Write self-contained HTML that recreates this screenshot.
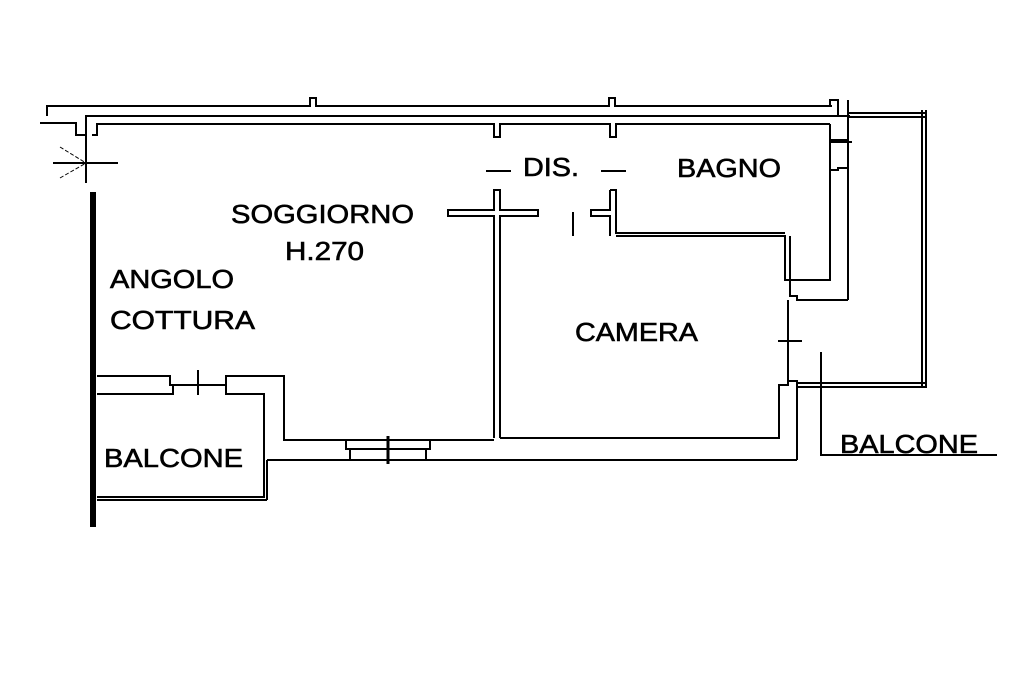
<!DOCTYPE html>
<html><head><style>body{margin:0;background:#fff}svg{display:block}text{font-family:"Liberation Sans",Arial,sans-serif;font-size:26px;fill:#000;stroke:#000;stroke-width:0.6}</style></head><body>
<svg width="1024" height="683" viewBox="0 0 1024 683" xmlns="http://www.w3.org/2000/svg">
<g fill="none" stroke="#000" stroke-width="2">
<polyline points="47,116 47,106 310,106 310,98 316,98 316,106 609,106 609,98 615,98 615,106 832,106"/>
<polyline points="86,183 86,116 850,116"/>
<polyline points="40,123 76,123 76,135 86,135"/>
<polyline points="92,135 97,135 97,124 494,124 494,137 500,137 500,124 610,124 610,137 616,137 616,124 830,124"/>
<polyline points="830,106 830,100 838,100 838,106"/>
<polyline points="848,100 848,300"/>
<polyline points="838,116 838,100"/>
<line x1="848" y1="113" x2="925" y2="113"/><line x1="848" y1="117" x2="925" y2="117"/>
<line x1="922" y1="110" x2="922" y2="388"/><line x1="926" y1="110" x2="926" y2="388"/>
<polyline points="830,124 830,280 785,280 785,236 616,236"/>
<polyline points="830,140 848,140"/><polyline points="830,170 838,170 838,168 848,168"/><polyline points="830,142 838,142"/><line x1="838" y1="142" x2="852" y2="142"/>
<polyline points="848,300 797,300 797,296 790,296 790,236"/>
<line x1="486" y1="171" x2="511" y2="171"/><line x1="601" y1="171" x2="626" y2="171"/>
<polyline points="494,438 494,216 448,216 448,210 494,210 494,190 500,190 500,210 538,210 538,216 500,216 500,438"/>
<line x1="573" y1="212" x2="573" y2="236"/>
<polyline points="610,190 610,210 591,210 591,216 610,216 610,236"/>
<polyline points="610,190 616,190 616,233 785,233"/>
<polyline points="500,438 779,438 779,385 788,385 788,300"/>
<line x1="778" y1="341" x2="802" y2="341"/>
<polyline points="797,460 797,381 788,381"/>
<line x1="797" y1="383" x2="925" y2="383"/><line x1="797" y1="387" x2="925" y2="387"/>
<polyline points="821,352 821,455 997,455"/>
<polyline points="267,460 797,460"/>
<polyline points="97,376 170,376 170,385 226,385 226,376 284,376 284,440 494,440"/>
<polyline points="97,394 173,394 173,386"/><polyline points="226,386 226,394 264,394 264,498"/>
<line x1="267" y1="460" x2="267" y2="500"/>
<line x1="97" y1="497" x2="264" y2="497"/><line x1="97" y1="500" x2="267" y2="500"/>
<line x1="198" y1="370" x2="198" y2="395"/>
<polyline points="346,440 346,449 350,449 350,460"/><polyline points="430,440 430,449 426,449 426,460"/>
<line x1="346" y1="449" x2="430" y2="449"/>
<line x1="388" y1="436" x2="388" y2="464" stroke-width="3"/>
<line x1="53" y1="163" x2="118" y2="163"/>
<line x1="60" y1="147" x2="86" y2="163" stroke-dasharray="4,2" stroke-width="1"/>
<line x1="60" y1="178" x2="86" y2="163" stroke-dasharray="4,2" stroke-width="1"/>
</g>
<line x1="93" y1="192" x2="93" y2="527" stroke="#000" stroke-width="6"/>
<text x="231" y="223" textLength="183" lengthAdjust="spacingAndGlyphs">SOGGIORNO</text>
<text x="285" y="260" textLength="79" lengthAdjust="spacingAndGlyphs">H.270</text>
<text x="110" y="288" textLength="124" lengthAdjust="spacingAndGlyphs">ANGOLO</text>
<text x="110" y="329" textLength="145" lengthAdjust="spacingAndGlyphs">COTTURA</text>
<text x="104" y="467" textLength="139" lengthAdjust="spacingAndGlyphs">BALCONE</text>
<text x="523" y="176" textLength="56" lengthAdjust="spacingAndGlyphs">DIS.</text>
<text x="677" y="177" textLength="104" lengthAdjust="spacingAndGlyphs">BAGNO</text>
<text x="575" y="341" textLength="123" lengthAdjust="spacingAndGlyphs">CAMERA</text>
<text x="840" y="453" textLength="138" lengthAdjust="spacingAndGlyphs">BALCONE</text>
</svg>
</body></html>
